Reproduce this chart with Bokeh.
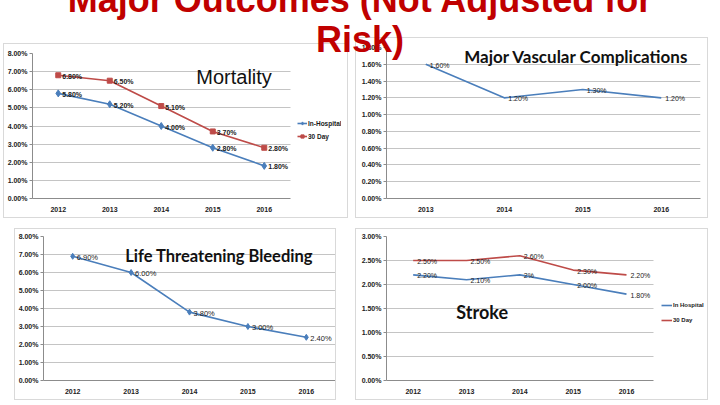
from bokeh.plotting import figure
from bokeh.models import (FactorRange, Range1d, FixedTicker, PrintfTickFormatter,
                          Label, Legend, LegendItem, Div)
from bokeh.layouts import column, row
from bokeh.embed import file_html
from bokeh.resources import INLINE
from bokeh.core.properties import value

# ---------------- data ----------------
years_5 = ["2012", "2013", "2014", "2015", "2016"]
years_4 = ["2013", "2014", "2015", "2016"]

mort_in_hospital = [5.8, 5.2, 4.0, 2.8, 1.8]
mort_30day = [6.8, 6.5, 5.1, 3.7, 2.8]

vascular = [1.6, 1.2, 1.3, 1.2]

bleeding = [6.9, 6.0, 3.8, 3.0, 2.4]

stroke_in_hospital = [2.2, 2.1, 2.2, 2.0, 1.8]
stroke_in_hospital_labels = ["2.20%", "2.10%", "2%", "2.00%", "1.80%"]
stroke_30day = [2.5, 2.5, 2.6, 2.3, 2.2]

ticks_8 = [0, 1, 2, 3, 4, 5, 6, 7, 8]
ticks_18 = [0, 0.2, 0.4, 0.6, 0.8, 1.0, 1.2, 1.4, 1.6, 1.8]
ticks_3 = [0, 0.5, 1.0, 1.5, 2.0, 2.5, 3.0]

BLUE = "#4A7EBB"
RED = "#BE4B48"
SANS = "Liberation Sans"


def pct(vals):
    return ["%.2f%%" % v for v in vals]


def make_fig(w, h, factors, ymax, ticks, bl, br, bt, bb, margin, legend_space=False):
    rng = list(factors) + ([" "] if legend_space else [])
    p = figure(width=w, height=h, x_range=FactorRange(*rng, range_padding=0),
               y_range=Range1d(0, ymax), output_backend="svg", toolbar_location=None,
               title=None, min_border_left=bl, min_border_right=br,
               min_border_top=bt, min_border_bottom=bb, margin=margin,
               border_fill_color=None, background_fill_color=None,
               outline_line_color=None,
               styles={"border": "1px solid #d9d9d9", "box-sizing": "border-box"})
    p.yaxis.ticker = FixedTicker(ticks=ticks)
    p.yaxis.formatter = PrintfTickFormatter(format="%.2f%%")
    for ax in (p.xaxis, p.yaxis):
        ax.major_label_text_font = SANS
        ax.major_label_text_font_size = "7px"
        ax.major_label_text_font_style = "bold"
        ax.major_label_text_color = "#222222"
        ax.axis_line_color = "#8c8c8c"
    p.yaxis.major_tick_out = 3
    p.yaxis.major_tick_in = 0
    p.yaxis.major_tick_line_color = "#8c8c8c"
    p.yaxis.minor_tick_line_color = None
    p.yaxis.major_label_standoff = 2
    p.xaxis.major_tick_line_color = None
    p.xaxis.major_tick_out = 0
    p.xaxis.major_tick_in = 0
    p.xaxis.major_label_standoff = 8
    p.ygrid.grid_line_color = "#c4c4c4"
    p.xgrid.grid_line_color = None
    if legend_space:
        n = len(factors)
        p.xaxis.bounds = (0, n)
        p.ygrid.cross_bounds = (0, n)
    return p


def data_labels(p, x, y, labels, bold=False, size="7px"):
    p.text(x=x, y=y, text=labels, x_offset=4, y_offset=1, text_baseline="middle",
           text_align="left", text_font_size=size, text_font=value(SANS),
           text_font_style="bold" if bold else "normal", text_color="#1a1a1a")


def style_legend(lg, size, glyph_w, spacing):
    lg.label_text_font = SANS
    lg.label_text_font_size = size
    lg.label_text_font_style = "bold"
    lg.label_text_color = "#1a1a1a"
    lg.glyph_width = glyph_w
    lg.glyph_height = 8
    lg.label_standoff = 1
    lg.spacing = spacing
    lg.padding = 0
    lg.margin = 0
    lg.border_line_color = None
    lg.background_fill_alpha = 0
    lg.label_height = 8


# ---------------- Mortality ----------------
f1 = make_fig(345, 175, years_5, 8, ticks_8, 27, 8, 9, 21, (6, 7, 0, 3), legend_space=True)
l1 = f1.line(years_5, mort_in_hospital, line_color=BLUE, line_width=1.6)
s1 = f1.scatter(years_5, mort_in_hospital, marker="diamond", size=7, color=BLUE)
l2 = f1.line(years_5, mort_30day, line_color=RED, line_width=1.6)
s2 = f1.scatter(years_5, mort_30day, marker="square", size=5, color=RED)
data_labels(f1, years_5, mort_in_hospital, pct(mort_in_hospital), bold=True)
data_labels(f1, years_5, mort_30day, pct(mort_30day), bold=True)
lg1 = Legend(items=[LegendItem(label="In-Hospital", renderers=[l1, s1]),
                    LegendItem(label="30 Day", renderers=[l2, s2])],
             location=(265, 58))
style_legend(lg1, "6.5px", 10, 5)
f1.add_layout(lg1)
f1.add_layout(Label(x=3.18, y=6.73, text="Mortality", text_font=SANS,
                    text_font_size="20px", text_baseline="middle", text_color="#111111"))

# ---------------- Major Vascular Complications ----------------
f2 = make_fig(353, 181, years_4, 1.8, ticks_18, 30, 9, 9, 21, (0, 12, 0, 0))
f2.line(years_4, vascular, line_color=BLUE, line_width=1.6)
data_labels(f2, years_4, vascular, pct(vascular))
f2.add_layout(Label(x=0.99, y=1.687, text="Major Vascular Complications", text_font="Lato",
                    text_font_size="17px", text_font_style="bold",
                    text_baseline="middle", text_color="#111111"))

# ---------------- Life Threatening Bleeding ----------------
f3 = make_fig(322, 172, years_5, 8, ticks_8, 27, 2, 7, 21, (0, 19, 0, 14))
f3.line(years_5, bleeding, line_color=BLUE, line_width=1.6)
f3.scatter(years_5, bleeding, marker="diamond", size=6, color=BLUE)
data_labels(f3, years_5, bleeding, pct(bleeding), size="7.5px")
f3.add_layout(Label(x=1.40, y=6.94, text="Life Threatening Bleeding", text_font="Lato",
                    text_font_size="16.5px", text_font_style="bold",
                    text_baseline="middle", text_color="#111111"))

# ---------------- Stroke ----------------
f4 = make_fig(353, 172, years_5, 3, ticks_3, 30, 3, 6, 20, (0, 12, 0, 0), legend_space=True)
m1 = f4.line(years_5, stroke_in_hospital, line_color=BLUE, line_width=1.6)
m2 = f4.line(years_5, stroke_30day, line_color=RED, line_width=1.6)
data_labels(f4, years_5, stroke_in_hospital, stroke_in_hospital_labels)
data_labels(f4, years_5, stroke_30day, pct(stroke_30day))
lg4 = Legend(items=[LegendItem(label="In Hospital", renderers=[m1]),
                    LegendItem(label="30 Day", renderers=[m2])],
             location=(275, 56))
style_legend(lg4, "6px", 11, 7)
f4.add_layout(lg4)
f4.add_layout(Label(x=1.31, y=1.42, text="Stroke", text_font="Lato",
                    text_font_size="18px", text_font_style="bold",
                    text_baseline="middle", text_color="#111111"))

# ---------------- Title ----------------
title = Div(text="Major Outcomes (Not Adjusted for<br>Risk)", width=720, height=80,
            margin=(-20, 0, -23, 0),
            styles={"font-family": "'Liberation Sans', Arial, sans-serif",
                    "font-size": "36px", "font-weight": "bold", "color": "#C00000",
                    "text-align": "center", "line-height": "40px",
                    "position": "relative", "z-index": "10"})

layout = column(title, row(f1, f2), row(f3, f4, margin=(10, 0, 0, 0)))

open("out.html", "w").write(file_html(layout, INLINE))
